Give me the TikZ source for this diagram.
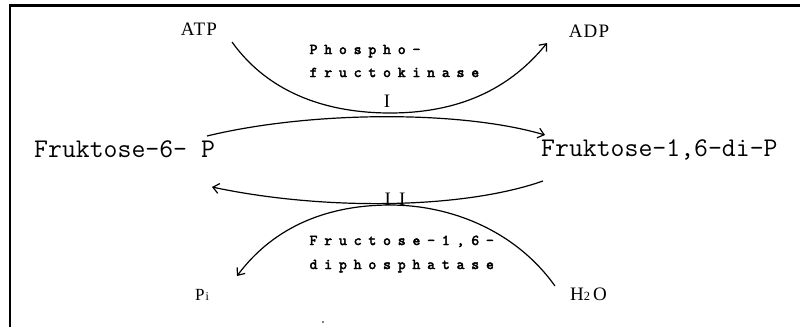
\documentclass[tikz,border=0pt]{standalone}
\usepackage{fontspec}
\setmainfont{Liberation Serif}[LetterSpace=6]
\usetikzlibrary{arrows.meta}
\font\enzf="[lmmono10-regular]:embolden=3" at 15pt
\newcommand\lsp[1]{\lspi#1\relax}
\def\lspi#1{\ifx#1\relax\else\makebox[14.7pt]{#1}\expandafter\lspi\fi}
\newcommand\sz[1]{\fontsize{#1}{#1}\selectfont}
\begin{document}
\begin{tikzpicture}[x=1pt,y=-1pt,
  lab/.style={inner sep=0pt,font=\rmfamily\sz{19}},
  smalllab/.style={inner sep=0pt,font=\rmfamily\sz{17}},
  mono/.style={inner sep=0pt,anchor=base west,font=\ttfamily\sz{27}},
  enz/.style={inner sep=0pt,anchor=base west,font=\enzf},
  curve/.style={line width=1.2pt},
  arr/.style={curve,-{Straight Barb[length=6pt,width=10pt]}}]
\useasboundingbox (0,0) rectangle (800,327);
% frame
\draw[line width=2.4pt] (10,327) -- (10,5.5) -- (800,5.5);
% labels
\node[lab,anchor=base] (atp) at (199,35) {ATP};
\node[lab,anchor=base] (adp) at (589,37) {ADP};
\node[mono] (f6p) at (34,157) {Fruktose-6- P};
\node[mono] (f16p) at (541,156) {Fruktose-1,6-di-P};
\node[enz] (pfk1) at (306,54) {\lsp{Phospho-}};
\node[enz] (pfk2) at (306,77) {\lsp{fructokinase}};
\node[enz] (fbp1) at (306,245) {\lsp{Fructose-1,6-}};
\node[enz] (fbp2) at (306,269) {\lsp{diphosphatase}};
\node[lab,anchor=base] (one) at (387,107) {I};
\node[lab,anchor=base] (two) at (395,205) {I\kern8pt I};
\node[smalllab,anchor=base west] (pi) at (195,300) {P\kern1pt{\sz{12}i}};
\node[lab,anchor=base west] (h2o) at (570,300) {H{\sz{12.5}2}\kern3pt O};
% curve end points
\coordinate (atpS) at (232,42);
\coordinate (adpE) at (547,43);
\coordinate (f6pS) at (207,136);
\coordinate (f16pE) at (545,135);
\coordinate (f16pS) at (543,181);
\coordinate (f6pE) at (212,187);
\coordinate (h2oS) at (555,286);
\coordinate (piE) at (237,276);
% reaction I
\draw[arr] (atpS) .. controls (270,95) and (330,113) .. (390,113)
  .. controls (450,113) and (505,95) .. (adpE);
\draw[arr] (f6pS) .. controls (310,111) and (460,110) .. (f16pE);
% reaction II
\draw[arr] (f16pS) .. controls (460,210) and (320,210) .. (f6pE);
\draw[arr] (h2oS) .. controls (515,230) and (450,205) .. (390,205)
  .. controls (330,205) and (275,225) .. (piE);
% speck
\fill (323,322) circle (0.8pt);
\end{tikzpicture}
\end{document}
